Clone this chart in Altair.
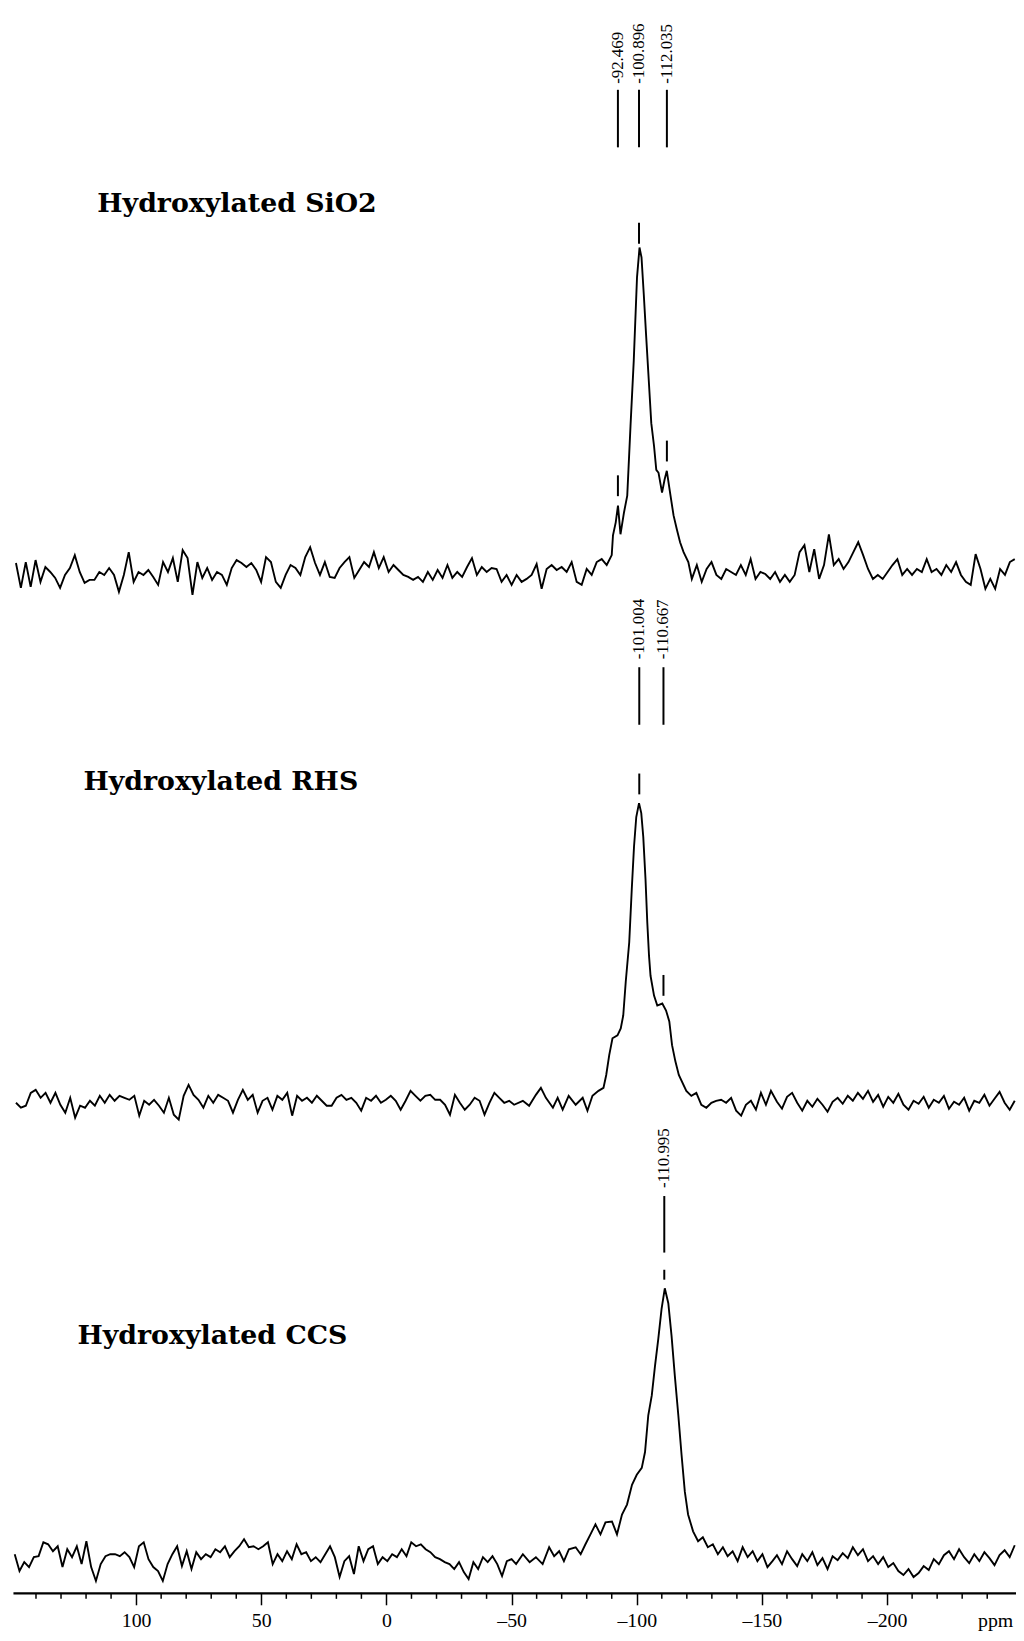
import altair as alt
import numpy as np
import pandas as pd

# ---------------- data ----------------
# x axis: chemical shift (ppm), reversed; intensities in arbitrary units
AXIS_TICKS = [100, 50, 0, -50, -100, -150, -200]
MINOR_TICKS = [140, 130, 120, 110, 90, 80, 70, 60, 40, 30, 20, 10, -10, -20, -30, -40,
               -60, -70, -80, -90, -110, -120, -130, -140, -160, -170, -180, -190,
               -210, -220, -230, -240]

TRACE_NAMES = ["Hydroxylated SiO2", "Hydroxylated RHS", "Hydroxylated CCS"]
BASELINES = [1026, 492, 32]           # vertical offset of each stacked spectrum

# --- Hydroxylated SiO2 ---
sio2_left = [12, -13, 13, -12, 15, -7, 8, 3, -3, -13,
             0, 7, 20, 3, -8, -5, -5, 3, 0, 7,
             0, -17, 0, 23, -7, 3, 0, 5, -2, -10,
             13, 3, 17, -7, 25, 17, -20, 13, -3, 7,
             -5, 3, 0, -10, 7, 15, 12, 8, 12, 5,
             -7, 18, 13, -7, -13, 0, 10, 7, 0, 18,
             28, 12, 0, 13, -2, -3, 7, 13, 18, -3,
             5, 13, 8, 23, 7, 18, 3, 10, 5, 0,
             -2, -5, -2, -7, 3, -5, 5, -3, 10, -3,
             3, -2, 8, 17, 0, 8, 3, 7]                      # 148 .. -42 ppm
sio2_mid = [6, -7, 0, -10, 0, -7, -4, 0, 11, -14, 6, 10, 5, 8, 3, 13, -7, -10, 6, 0,
            13, 16, 10, 20]                                  # -44 .. -90 ppm
sio2_peak_ppm = [-90.5, -91.6, -92.5, -93.5, -94.9, -96.2, -97.5, -98.8, -100.1, -101.1,
                 -101.9, -102.8, -103.7, -104.8, -105.8, -106.9, -107.8, -108.7, -110.1,
                 -111.1, -112.0, -113.3, -114.7, -116.0, -117.3, -118.7, -120.6, -122.0]
sio2_peak_int = [40, 53, 70, 41, 63, 80, 150, 216, 300, 330,
                 320, 283, 243, 196, 153, 130, 106, 103, 83,
                 96, 105, 83, 60, 46, 33, 23, 13, -4]
sio2_right = [10, -7, 6, 13, 0, -4, 6, 3, 0, 10,
              0, 16, -4, 3, 1, -4, 3, -7, 0, -7,
              0, 23, 30, 3, 26, -4, 10, 41, 10, 16,
              6, 13, 23, 33, 20, 6, -4, 0, -4, 3,
              10, 16, 0, 6, 0, 6, 3, 16, 3, 6,
              0, 10, 3, 13, 0, -7, -10, 21, 6, -14,
              -4, -14, 6, 0, 13, 16]                         # -124 .. -251 ppm

# --- Hydroxylated RHS ---
rhs_left = [2, -3, -1, 12, 15, 7, 12, 2, 12, 0,
            -8, 7, -13, -1, -3, 4, -1, 9, 2, 10,
            4, 9, 7, 5, 9, -11, 4, 0, 5, -1,
            -8, 7, -10, -15, 9, 20, 10, 5, -3, 9,
            2, 10, 7, 4, -8, 5, 15, 5, 10, -8,
            4, 7, -5, 9, 5, 12, -11, 9, 4, 7,
            2, 9, 4, -1, -1, 7, 10, 5, 7, 2,
            -6, 7, 4, 9, 2, 5, 9, 4, -5, 4,
            14, 9, 4, 9, 10, 5, 5, 0, -10, 10,
            2, -5, 0, 7, 4, -10, 2, 12, 7, 2,
            4, 0]                                            # 148 .. -51 ppm
rhs_peak_ppm = [-54.5, -57.0, -59.7, -61.7, -63.7, -66.5, -68.4, -70.4, -72.8, -75.6,
                -78.4, -80.3, -82.3, -84.7, -86.7, -87.8, -89.0, -90.3, -92.3, -93.6,
                -94.6, -95.6, -97.0, -98.0, -98.9, -99.8, -100.9, -101.8, -102.6, -103.5,
                -104.2, -104.9, -105.5, -106.9, -108.2, -110.2, -111.7, -113.0, -114.1,
                -115.4, -116.8, -119.8, -121.8, -123.8, -125.8, -127.8, -129.8, -131.7,
                -133.7, -135.7, -137.7, -139.7, -141.7, -143.6, -145.6, -147.6, -149.6,
                -151.6, -153.6]
rhs_peak_int = [4, -1, 10, 17, 7, -3, 7, -5, 9, 0,
                7, -6, 9, 14, 17, 30, 50, 67, 70, 77,
                90, 124, 164, 217, 260, 290, 304, 294, 270, 227,
                184, 150, 130, 110, 100, 102, 95, 84, 60,
                44, 30, 14, 9, 12, 0, -3, 2, 4,
                5, 2, 7, -6, -11, 0, 4, -5, 12,
                0, 14]
rhs_right = [3, -4, 8, 12, 2, -6, 4, -2, 6, 0,
             -7, 3, 7, 1, 9, 4, 12, 6, 14, 3,
             10, -2, 8, 2, 11, 0, -5, 4, 1, 8,
             -3, 5, 2, 9, -4, 3, 0, 7, -6, 4,
             2, 10, -1, 6, 13, 2, -5, 4]                     # -156 .. -251 ppm

# --- Hydroxylated CCS ---
ccs_left = [7, -10, -1, -6, 4, 5, 19, 17, 10, 15,
            -6, 12, 4, 15, -3, 20, -6, -20, -3, 5,
            7, 7, 5, 9, 4, -6, 15, 19, 2, -6,
            -10, -20, -3, 7, 15, -5, 10, -8, 9, 2,
            7, 4, 12, 9, 15, 4, 10, 15, 22, 14,
            15, 12, 15, 19, -3, 7, 0, 10, 2, 17,
            7, 9, 0, 4, -1, 7, 15, 4, -16, 0,
            5, -13, 15, 0, 12, 15, -3, 4, 0, 7,
            4, 12, 5, 19, 15, 17, 12, 9, 4, 2,
            -1, -3, -8, -1, -11, -18, -1, -8, 4, -1,
            5, -3, -15, 0, 2]                                # 148.5 .. -50 ppm
ccs_peak_ppm = [-51.8, -54.5, -57.2, -59.7, -62.4, -65.0, -67.0, -69.0, -70.9, -72.9,
                -75.6, -77.6, -79.5, -81.5, -83.5, -85.5, -87.5, -90.1, -92.1, -94.1,
                -96.1, -98.1, -100.0, -102.0, -103.3, -104.6, -106.0, -107.3, -108.6,
                -109.9, -111.2, -112.6, -113.9, -115.2, -116.6, -117.9, -119.2, -120.5,
                -122.5, -124.5, -126.4, -128.4, -130.4, -132.4, -134.4, -136.3, -138.3,
                -140.3, -142.3, -144.3, -146.3, -148.2, -150.2, -152.2, -154.2]
ccs_peak_int = [-3, 7, -1, 4, -3, 14, 5, 10, 0, 12,
                14, 7, 17, 27, 37, 27, 39, 40, 27, 47,
                57, 77, 87, 94, 110, 147, 167, 197, 224,
                254, 275, 260, 227, 187, 147, 107, 70, 47,
                30, 20, 24, 14, 17, 7, 14, 5, 10,
                0, 14, 4, 10, 0, 7, -6, 0]
ccs_right = [6, -3, 10, 2, -5, 7, 0, 9, -4, 3,
             -8, 5, 1, 8, 3, 14, 6, 12, 0, 5,
             -3, 4, -6, -2, -10, -14, -8, -16, -12, -5,
             -9, 2, -3, 6, 10, 2, 12, 4, -2, 7,
             0, 9, 3, -4, 6, 11, 4, 16]                     # -156 .. -251 ppm

# peak picks (ppm labels)
SIO2_PEAKS = [-92.469, -100.896, -112.035]
RHS_PEAKS = [-101.004, -110.667]
CCS_PEAKS = [-110.995]

# ---------------- assemble ----------------
def grid(start, end, vals):
    return list(zip(np.linspace(start, end, len(vals)), vals))

traces = {
    "SiO2": grid(148, -42, sio2_left) + grid(-44, -90, sio2_mid)
            + list(zip(sio2_peak_ppm, sio2_peak_int)) + grid(-124, -251, sio2_right),
    "RHS": grid(148, -51, rhs_left) + list(zip(rhs_peak_ppm, rhs_peak_int))
           + grid(-156, -251, rhs_right),
    "CCS": grid(148.5, -50, ccs_left) + list(zip(ccs_peak_ppm, ccs_peak_int))
           + grid(-156, -251, ccs_right),
}
peaks = {"SiO2": SIO2_PEAKS, "RHS": RHS_PEAKS, "CCS": CCS_PEAKS}
# label geometry (units above each baseline): line bottom, line top, text start, tick gap, tick length
geom = {"SiO2": (431, 489, 495, 10, 21), "RHS": (383, 441, 449, 10, 21), "CCS": (311, 368, 376, 12, 10)}

rows, lab_rows, tick_rows = [], [], []
for (key, pts), base in zip(traces.items(), BASELINES):
    for i, (p, v) in enumerate(pts):
        rows.append({"trace": key, "idx": i, "ppm": float(p), "y": base + v})
    arr = np.array(pts, dtype=float)
    xs, ys = arr[::-1, 0], arr[::-1, 1]
    lo, hi, ts, gap, tl = geom[key]
    for pk in peaks[key]:
        top = float(np.interp(pk, xs, ys)) + base
        tick_rows.append({"ppm": pk, "y": top + gap, "y2": top + gap + tl})
        lab_rows.append({"ppm": pk, "lo": base + lo, "hi": base + hi, "ty": base + ts,
                         "label": f"{pk:.3f}"})

df = pd.DataFrame(rows)
labs = pd.DataFrame(lab_rows)
ticks = pd.DataFrame(tick_rows)
minor = pd.DataFrame({"ppm": MINOR_TICKS})

W, H = 1011, 1591
xscale = alt.Scale(domain=[149.2, -251.5], nice=False, zero=False)
yscale = alt.Scale(domain=[0, H], nice=False, zero=False)

xaxis = alt.Axis(values=AXIS_TICKS, grid=False, labelFont="Liberation Serif", labelFontSize=20,
                 labelColor="black", labelPadding=6, tickSize=12, tickWidth=1.5, tickColor="black",
                 domainColor="black", domainWidth=2.5, labelExpr="replace(datum.label, '−', '–')",
                 title="ppm", titleFont="Liberation Serif", titleFontSize=20, titleFontWeight="normal",
                 titleColor="black", titleX=990, titleY=18, titleBaseline="top", titleAlign="center")

lines = alt.Chart(df).mark_line(color="black", strokeWidth=1.9).encode(
    x=alt.X("ppm:Q", scale=xscale, axis=xaxis),
    y=alt.Y("y:Q", scale=yscale, axis=None),
    detail="trace:N",
    order="idx:Q",
)

minor_ticks = alt.Chart(minor).mark_rule(color="black", strokeWidth=1.5).encode(
    x=alt.X("ppm:Q", scale=xscale), y=alt.value(H), y2=alt.value(H + 6))

label_lines = alt.Chart(labs).mark_rule(color="black", strokeWidth=2).encode(
    x=alt.X("ppm:Q", scale=xscale), y=alt.Y("lo:Q", scale=yscale), y2="hi:Q")

label_text = alt.Chart(labs).mark_text(angle=270, align="left", baseline="middle",
                                       font="Liberation Serif", fontSize=17, color="black").encode(
    x=alt.X("ppm:Q", scale=xscale), y=alt.Y("ty:Q", scale=yscale), text="label:N")

pick_ticks = alt.Chart(ticks).mark_rule(color="black", strokeWidth=2).encode(
    x=alt.X("ppm:Q", scale=xscale), y=alt.Y("y:Q", scale=yscale), y2="y2:Q")

title_pos = [(85, 199), (71, 782), (65, 1340)]
titles = [
    alt.Chart(pd.DataFrame({"t": [name]})).mark_text(
        align="left", baseline="alphabetic", font="DejaVu Serif", fontWeight="bold",
        fontSize=27, color="black").encode(x=alt.value(px), y=alt.value(py), text="t:N")
    for name, (px, py) in zip(TRACE_NAMES, title_pos)
]

chart = alt.layer(lines, minor_ticks, label_lines, label_text, pick_ticks, *titles).properties(
    width=W, height=H, autosize=alt.AutoSizeParams(type="none"),
    padding={"left": 5, "top": 0, "right": 0, "bottom": 36},
    background="white",
).configure_view(stroke=None)

chart.save("out.html", embed_options={"renderer": "svg", "actions": False})
